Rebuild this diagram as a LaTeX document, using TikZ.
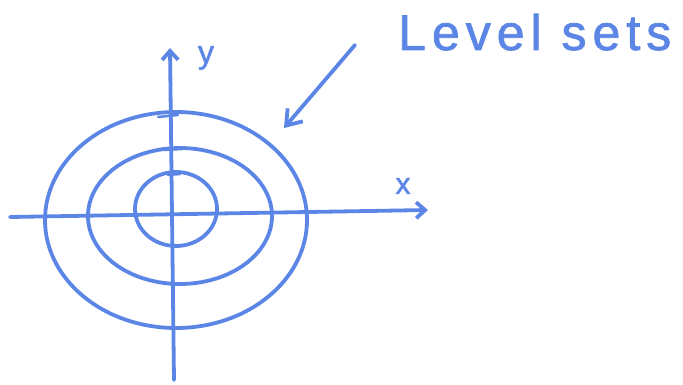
\documentclass[tikz,border=0pt]{standalone}
\usepackage{fontspec}
\setmainfont{Liberation Sans}
\newfontfamily\hand[LetterSpace=12,FakeBold=1.5]{Liberation Sans}
\usetikzlibrary{arrows.meta}
\definecolor{pen}{RGB}{92,134,230}
\tikzset{
  ink/.style={draw=pen, line width=3.8pt, line cap=round, line join=round},
  axis/.style={ink, -{Straight Barb[length=9pt,width=16pt,line width=3.8pt]}},
  lbl/.style={text=pen, inner sep=0pt}
}
\begin{document}
\begin{tikzpicture}[x=1pt,y=-1pt]
\useasboundingbox (0,0) rectangle (683,385);
% axes
\coordinate (ybot) at (174,380);
\coordinate (ytop) at (170,48);
\coordinate (xl) at (10,217);
\coordinate (xr) at (428,210);
\draw[axis] (ybot) -- (ytop);
\draw[axis] (xl) -- (xr);
\node[lbl, font=\hand\fontsize{32}{32}\selectfont] (ylab) at (206,58) {y};
\node[lbl, font=\hand\fontsize{30}{30}\selectfont] (xlab) at (403,186) {x};
% level sets
\draw[ink] (176,220) ellipse [x radius=131, y radius=108];
\draw[ink] (180,216) ellipse [x radius=92, y radius=68];
\draw[ink] (176,209) ellipse [x radius=41, y radius=37];
% small ticks at crossings
\coordinate (t1a) at (158,117); \coordinate (t1b) at (178,115);
\coordinate (t2a) at (164,150); \coordinate (t2b) at (182,149);
\coordinate (t3a) at (168,175); \coordinate (t3b) at (180,174);
\draw[ink, line width=2.5pt] (t1a) -- (t1b);
\draw[ink, line width=2.5pt] (t2a) -- (t2b);
\draw[ink, line width=2.5pt] (t3a) -- (t3b);
% label and arrow
\node[lbl, anchor=base west, font=\hand\fontsize{50}{50}\selectfont] (title) at (398,50) {Level sets};
\coordinate (as) at (355,45);
\coordinate (ae) at (284,128);
\draw[ink, -{Straight Barb[length=14pt,width=20pt,line width=3.8pt]}] (as) -- (ae);
\end{tikzpicture}
\end{document}
